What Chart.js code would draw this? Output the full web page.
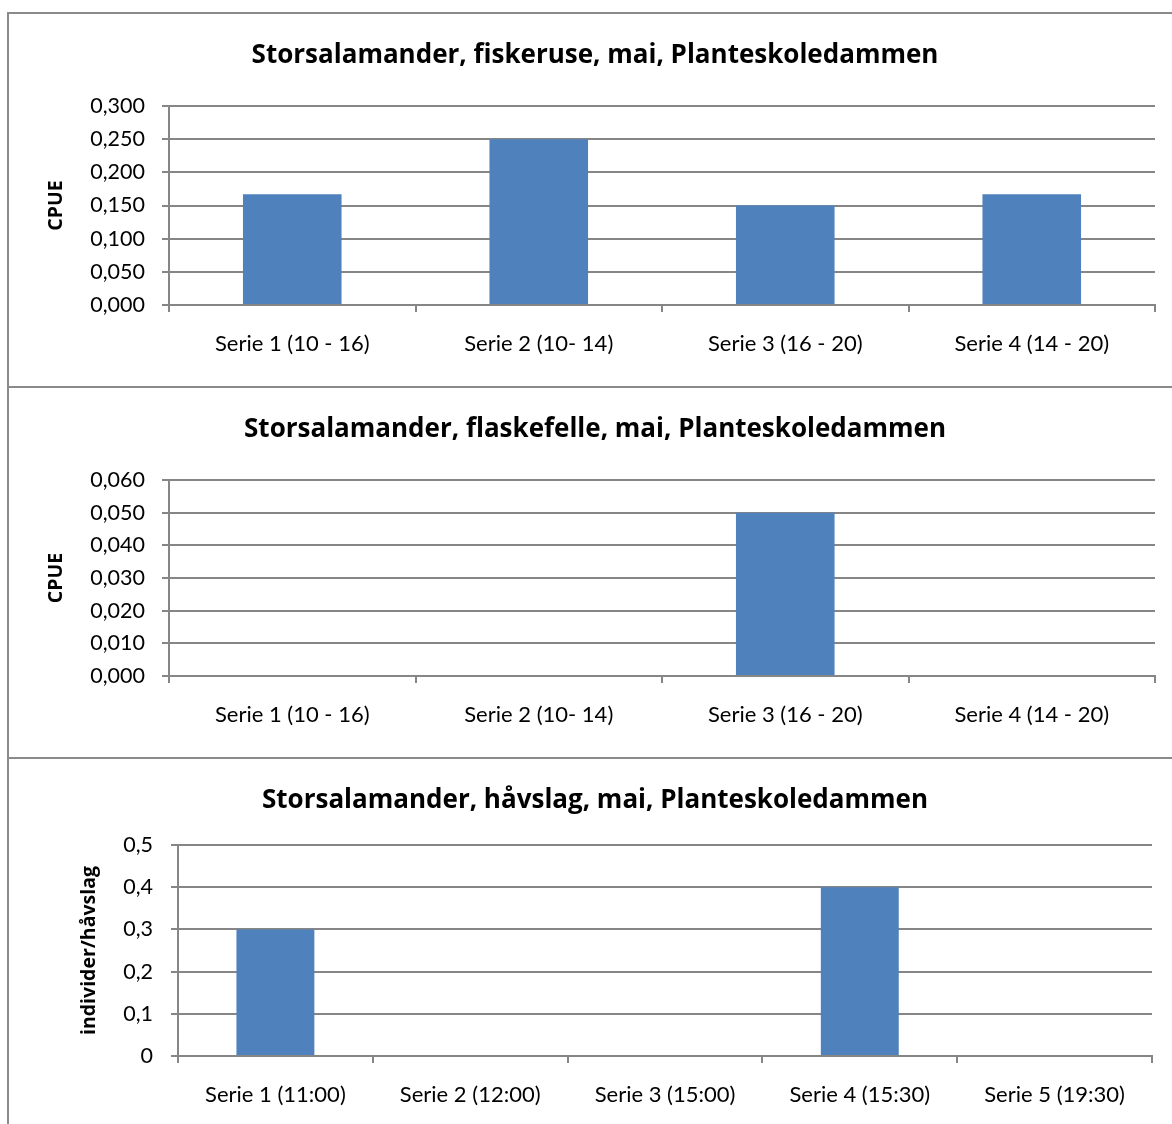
<!DOCTYPE html>
<html>
<head>
<meta charset="utf-8">
<script src="https://cdn.jsdelivr.net/npm/chart.js@4"></script>
<style>
  html, body { margin: 0; padding: 0; background: #fff; overflow: hidden; width: 1172px; height: 1124px; }
  .wrap { position: absolute; left: 7px; width: 1176px; }
  .wrap canvas { position: absolute; left: 0; top: 0; }
  .frame { position: absolute; left: 7px; width: 1176px; box-sizing: border-box; border: 2px solid #8a8a8a; pointer-events: none; }
</style>
</head>
<body>
<div class="wrap" id="w1" style="top:12px;height:376px"><canvas id="c1"></canvas></div>
<div class="wrap" id="w2" style="top:386px;height:373px"><canvas id="c2"></canvas></div>
<div class="wrap" id="w3" style="top:757px;height:400px"><canvas id="c3"></canvas></div>
<div class="frame" style="top:12px;height:376px"></div>
<div class="frame" style="top:386px;height:373px"></div>
<div class="frame" style="top:757px;height:400px"></div>
<script>
// ---- data ----
const titles = [
  'Storsalamander, fiskeruse, mai, Planteskoledammen',
  'Storsalamander, flaskefelle, mai, Planteskoledammen',
  'Storsalamander, håvslag, mai, Planteskoledammen'
];
const yTitles = ['CPUE', 'CPUE', 'individer/håvslag'];
const categoriesA = ['Serie 1 (10 - 16)', 'Serie 2 (10- 14)', 'Serie 3 (16 - 20)', 'Serie 4 (14 - 20)'];
const categoriesB = ['Serie 1 (11:00)', 'Serie 2 (12:00)', 'Serie 3 (15:00)', 'Serie 4 (15:30)', 'Serie 5 (19:30)'];
const valuesFiskeruse = [0.167, 0.25, 0.15, 0.167];
const valuesFlaskefelle = [0, 0, 0.05, 0];
const valuesHavslag = [0.3, 0, 0, 0.4, 0];
const yTicks1 = ['0,000', '0,050', '0,100', '0,150', '0,200', '0,250', '0,300'];
const yTicks2 = ['0,000', '0,010', '0,020', '0,030', '0,040', '0,050', '0,060'];
const yTicks3 = ['0', '0,1', '0,2', '0,3', '0,4', '0,5'];
const yMax = [0.3, 0.06, 0.5];
const yStep = [0.05, 0.01, 0.1];

// ---- styling ----
const FONT = 'Lato, "Open Sans", sans-serif';
const BOLDFONT = '"Open Sans", Lato, sans-serif';
const GRID = '#868686';
const BAR = '#4F81BD';

function makeChart(id, cfg) {
  const canvas = document.getElementById(id);
  const ctx = canvas.getContext('2d');
  return new Chart(ctx, {
    type: 'bar',
    data: {
      labels: cfg.labels,
      datasets: [{ data: cfg.values, backgroundColor: BAR, borderWidth: 0, barPercentage: 0.4, categoryPercentage: 1.0 }]
    },
    options: {
      responsive: false,
      animation: false,
      devicePixelRatio: 1,
      layout: { padding: 0 },
      plugins: {
        legend: { display: false },
        tooltip: { enabled: false },
        title: {
          display: true,
          text: cfg.title,
          color: '#000',
          font: { family: BOLDFONT, size: 26, weight: 'bold', lineHeight: 1.25 },
          padding: { top: 27, bottom: cfg.titleBottom }
        }
      },
      scales: {
        x: {
          grid: { display: true, drawOnChartArea: false, drawTicks: true, tickLength: 7, color: GRID, lineWidth: 2, offset: true },
          border: { display: true, color: GRID, width: 2 },
          ticks: { color: '#000', font: { family: FONT, size: 22 }, padding: 19, maxRotation: 0, autoSkip: false },
          afterFit: s => { s.height = cfg.xHeight; }
        },
        y: {
          min: 0, max: cfg.max,
          ticks: {
            stepSize: cfg.step, color: '#000', font: { family: FONT, size: 21.5 }, padding: cfg.yPad,
            callback: (v, i) => cfg.yTicks[i]
          },
          grid: { color: GRID, lineWidth: 2, tickLength: 7, drawTicks: true },
          border: { display: true, color: GRID, width: 2 },
          title: {
            display: true, text: cfg.yTitle, color: '#000',
            font: { family: BOLDFONT, size: 19.5, weight: 'bold', lineHeight: 1.2 },
            padding: { top: cfg.yTitlePad, bottom: 0 }
          },
          afterFit: s => { s.width = cfg.yWidth; }
        },
        yr: {
          position: 'right', display: true, min: 0, max: 1,
          grid: { display: false }, border: { display: false }, ticks: { display: false },
          afterFit: s => { s.width = cfg.rWidth; }
        }
      }
    }
  });
}

function sizeCanvas(id, w, h) {
  const c = document.getElementById(id);
  c.width = w; c.height = h;
  c.style.width = w + 'px'; c.style.height = h + 'px';
}
sizeCanvas('c1', 1176, 376);
sizeCanvas('c2', 1176, 373);
sizeCanvas('c3', 1176, 400);

makeChart('c1', {
  labels: categoriesA, values: valuesFiskeruse, title: titles[0], yTitle: yTitles[0],
  yTicks: yTicks1, max: yMax[0], step: yStep[0],
  titleBottom: 34.5, xHeight: 83, yWidth: 162, rWidth: 28, yPad: 17, yTitlePad: 38
});
makeChart('c2', {
  labels: categoriesA, values: valuesFlaskefelle, title: titles[1], yTitle: yTitles[1],
  yTicks: yTicks2, max: yMax[1], step: yStep[1],
  titleBottom: 34.5, xHeight: 83, yWidth: 162, rWidth: 28, yPad: 17, yTitlePad: 38
});
makeChart('c3', {
  labels: categoriesB, values: valuesHavslag, title: titles[2], yTitle: yTitles[2],
  yTicks: yTicks3, max: yMax[2], step: yStep[2],
  titleBottom: 28.5, xHeight: 101, yWidth: 171, rWidth: 31, yPad: 18, yTitlePad: 71
});
</script>
</body>
</html>
